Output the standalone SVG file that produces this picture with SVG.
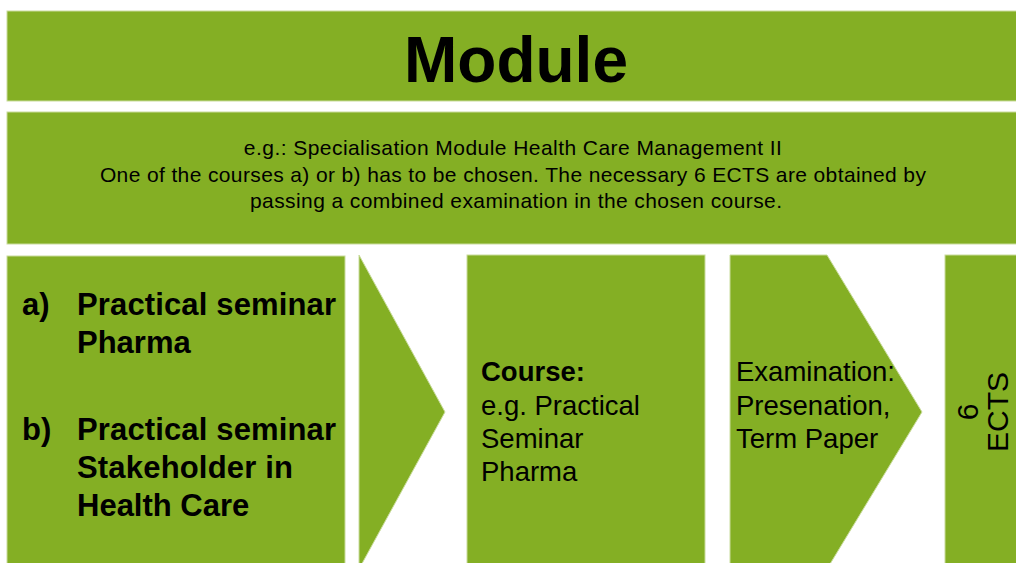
<svg xmlns="http://www.w3.org/2000/svg" width="1016" height="563" viewBox="0 0 1016 563">
<style>
.box{fill:#84AF24;stroke:#C9DC9C;stroke-width:1}
.t{font-family:"Liberation Sans",Arial,sans-serif;fill:#000}
.b{font-weight:bold}
</style>
<rect width="1016" height="563" fill="#fff"/>
<g id="module">
<rect class="box" x="7" y="11" width="1015" height="90"/>
<text class="t b" x="516" y="82" font-size="64" text-anchor="middle">Module</text>
</g>
<g id="description">
<rect class="box" x="7" y="112" width="1015" height="132"/>
<text class="t" font-size="21" text-anchor="middle">
<tspan x="516" y="155" textLength="538">e.g.: Specialisation Module Health Care Management II</tspan>
<tspan x="516" y="182" textLength="826">One of the courses a) or b) has to be chosen. The necessary 6 ECTS are obtained by</tspan>
<tspan x="516" y="208" textLength="532">passing a combined examination in the chosen course.</tspan>
</text>
</g>
<g id="courses">
<rect class="box" x="7" y="256" width="338" height="320"/>
<text class="t b" font-size="31">
<tspan x="22" y="315">a)</tspan>
<tspan x="77" y="315" textLength="259">Practical seminar</tspan>
<tspan x="77" y="353">Pharma</tspan>
<tspan x="22" y="440">b)</tspan>
<tspan x="77" y="440" textLength="259">Practical seminar</tspan>
<tspan x="77" y="478" textLength="216">Stakeholder in</tspan>
<tspan x="77" y="516">Health Care</tspan>
</text>
</g>
<g id="connectors">
<polygon class="box" points="359,255 445,412 359,569"/>
</g>
<g id="course">
<rect class="box" x="467" y="255" width="238" height="320"/>
<text class="t" font-size="27.5">
<tspan class="b" x="481" y="381">Course:</tspan>
<tspan x="481" y="415">e.g. Practical</tspan>
<tspan x="481" y="448">Seminar</tspan>
<tspan x="481" y="481">Pharma</tspan>
</text>
</g>
<g id="examination">
<polygon class="box" points="730,255 827,255 922,412 827,569 730,569"/>
<text class="t" font-size="27.5">
<tspan x="736" y="381">Examination:</tspan>
<tspan x="736" y="415">Presenation,</tspan>
<tspan x="736" y="448">Term Paper</tspan>
</text>
</g>
<g id="ects">
<rect class="box" x="945" y="255" width="80" height="320"/>
<text class="t" font-size="30" text-anchor="middle" transform="translate(978,412) rotate(-90)">6</text>
<text class="t" font-size="30" text-anchor="middle" transform="translate(1008,412) rotate(-90)">ECTS</text>
</g>
</svg>
